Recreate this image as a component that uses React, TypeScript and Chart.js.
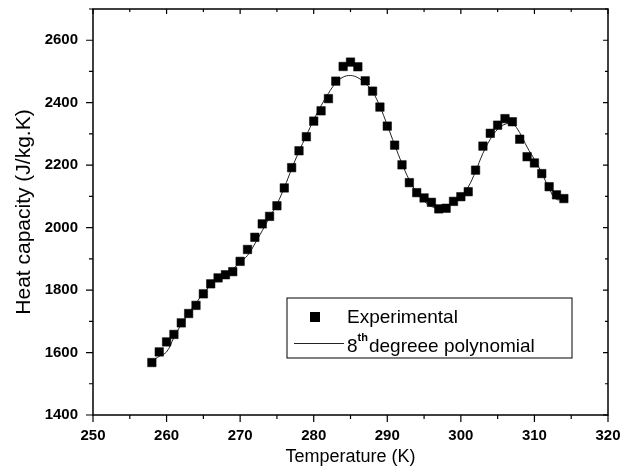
import React, { useEffect, useRef } from 'react';
import { Chart, registerables } from 'chart.js';

Chart.register(...registerables);

// Temperatures (K) of the experimental points
const temperatures = [
  258, 259, 260, 261, 262, 263, 264, 265, 266, 267, 268, 269, 270, 271, 272, 273, 274, 275, 276,
  277, 278, 279, 280, 281, 282, 283, 284, 285, 286, 287, 288, 289, 290, 291, 292, 293, 294, 295,
  296, 297, 298, 299, 300, 301, 302, 303, 304, 305, 306, 307, 308, 309, 310, 311, 312, 313, 314,
];

// Experimental heat capacity (J/kg.K)
const experimental = [
  1568, 1602, 1634, 1658, 1695, 1725, 1751, 1788, 1820, 1839, 1849, 1859, 1892, 1930, 1969, 2012, 2036, 2070, 2127,
  2192, 2246, 2291, 2341, 2374, 2413, 2469, 2516, 2530, 2515, 2470, 2437, 2386, 2325, 2264, 2201, 2144, 2112, 2095,
  2081, 2060, 2062, 2084, 2099, 2115, 2184, 2261, 2302, 2328, 2349, 2339, 2283, 2227, 2207, 2173, 2131, 2105, 2093,
];

// 8th degree polynomial fit
const polynomial = [
  1572, 1588, 1602, 1648, 1690, 1725, 1758, 1790, 1815, 1836, 1852, 1868, 1888, 1911, 1948, 1990, 2033, 2075, 2128,
  2188, 2244, 2295, 2345, 2390, 2430, 2463, 2482, 2487, 2480, 2462, 2435, 2388, 2328, 2265, 2205, 2152, 2112, 2085,
  2068, 2062, 2066, 2082, 2100, 2130, 2180, 2238, 2283, 2315, 2331, 2333, 2304, 2258, 2218, 2175, 2125, 2090, 2095,
];

const xTicks = [250, 260, 270, 280, 290, 300, 310, 320];
const xMinorTicks = [255, 265, 275, 285, 295, 305, 315];
const yTicks = [1400, 1600, 1800, 2000, 2200, 2400, 2600];
const yMinorTicks = [1500, 1700, 1900, 2100, 2300, 2500, 2700];

const FONT = "'Liberation Sans', Arial, Helvetica, sans-serif";

const framePlugin = {
  id: 'frameAndTicks',
  afterDraw(chart: any) {
    const { ctx, chartArea } = chart;
    const { left, right, top, bottom } = chartArea;
    const xs = chart.scales.x;
    const ys = chart.scales.y;
    ctx.save();
    ctx.strokeStyle = '#000';
    ctx.lineWidth = 1.5;
    ctx.strokeRect(left, top, right - left, bottom - top);
    ctx.lineWidth = 1.2;
    ctx.beginPath();
    xTicks.forEach((v) => {
      const px = xs.getPixelForValue(v);
      ctx.moveTo(px, bottom);
      ctx.lineTo(px, bottom + 7);
      ctx.moveTo(px, top);
      ctx.lineTo(px, top + 5);
    });
    xMinorTicks.forEach((v) => {
      const px = xs.getPixelForValue(v);
      ctx.moveTo(px, bottom);
      ctx.lineTo(px, bottom + 4);
      ctx.moveTo(px, top);
      ctx.lineTo(px, top + 3);
    });
    yTicks.forEach((v) => {
      const py = ys.getPixelForValue(v);
      ctx.moveTo(left, py);
      ctx.lineTo(left - 7, py);
      ctx.moveTo(right, py);
      ctx.lineTo(right - 5, py);
    });
    yMinorTicks.forEach((v) => {
      const py = ys.getPixelForValue(v);
      ctx.moveTo(left, py);
      ctx.lineTo(left - 4, py);
      ctx.moveTo(right, py);
      ctx.lineTo(right - 3, py);
    });
    ctx.stroke();

    // Legend box
    const bx = 287, by = 298, bw = 285, bh = 60;
    ctx.fillStyle = '#fff';
    ctx.fillRect(bx, by, bw, bh);
    ctx.lineWidth = 1;
    ctx.strokeRect(bx, by, bw, bh);
    ctx.fillStyle = '#000';
    ctx.fillRect(310, 312, 10, 10);
    ctx.font = `19px ${FONT}`;
    ctx.textBaseline = 'alphabetic';
    ctx.textAlign = 'left';
    ctx.fillText('Experimental', 347, 323);
    ctx.strokeStyle = '#222';
    ctx.lineWidth = 1;
    ctx.beginPath();
    ctx.moveTo(294, 343.5);
    ctx.lineTo(344, 343.5);
    ctx.stroke();
    ctx.fillText('8', 347, 352);
    const w8 = ctx.measureText('8').width;
    ctx.font = `bold 11px ${FONT}`;
    ctx.fillText('th', 347 + w8, 341);
    const wth = ctx.measureText('th').width;
    ctx.font = `19px ${FONT}`;
    ctx.fillText('degreee polynomial', 347 + w8 + wth + 1, 352);
    ctx.restore();
  },
};

export default function App() {
  const canvasRef = useRef<HTMLCanvasElement | null>(null);

  useEffect(() => {
    if (!canvasRef.current) return;
    const chart = new Chart(canvasRef.current, {
      type: 'scatter',
      data: {
        datasets: [
          {
            label: 'Experimental',
            data: temperatures.map((t, i) => ({ x: t, y: experimental[i] })),
            pointStyle: 'rect',
            pointRadius: 6,
            pointBackgroundColor: '#000',
            pointBorderColor: '#000',
            pointBorderWidth: 0.5,
            showLine: false,
          },
          {
            label: '8th degreee polynomial',
            data: temperatures.map((t, i) => ({ x: t, y: polynomial[i] })),
            showLine: true,
            pointRadius: 0,
            borderColor: '#222',
            borderWidth: 1,
            tension: 0.4,
          },
        ],
      },
      options: {
        animation: false,
        responsive: true,
        maintainAspectRatio: false,
        layout: { padding: { top: 8, right: 21, left: 0, bottom: 0 } },
        plugins: {
          legend: { display: false },
          tooltip: { enabled: false },
        },
        scales: {
          x: {
            type: 'linear',
            min: 250,
            max: 320,
            afterBuildTicks: (s: any) => {
              s.ticks = xTicks.map((v) => ({ value: v }));
            },
            afterFit: (s: any) => {
              s.height = 57;
            },
            grid: { display: false, drawTicks: true, tickLength: 12 },
            border: { display: false },
            ticks: {
              padding: 0,
              color: '#000',
              font: { family: FONT, size: 15, weight: 'bold' },
              callback: (v: any) => String(v),
              maxRotation: 0,
            },
            title: {
              display: true,
              text: 'Temperature (K)',
              color: '#000',
              font: { family: FONT, size: 18 },
              padding: { top: 0, bottom: 4 },
            },
          },
          y: {
            type: 'linear',
            min: 1400,
            max: 2700,
            afterBuildTicks: (s: any) => {
              s.ticks = yTicks.map((v) => ({ value: v }));
            },
            afterFit: (s: any) => {
              s.width = 93;
            },
            grid: { display: false, drawTicks: true, tickLength: 15 },
            border: { display: false },
            ticks: {
              padding: 0,
              color: '#000',
              font: { family: FONT, size: 15, weight: 'bold' },
              callback: (v: any) => String(v),
            },
            title: {
              display: true,
              text: 'Heat capacity (J/kg.K)',
              color: '#000',
              font: { family: FONT, size: 21 },
              padding: { top: 12, bottom: 0 },
            },
          },
        },
      },
      plugins: [framePlugin],
    });
    return () => chart.destroy();
  }, []);

  return (
    <div style={{ position: 'fixed', left: 0, top: 0, width: 629, height: 472, background: '#fff' }}>
      <canvas ref={canvasRef} />
    </div>
  );
}
